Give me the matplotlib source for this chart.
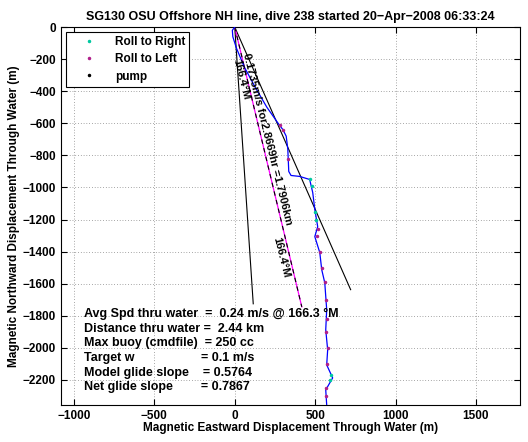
import matplotlib
matplotlib.use("Agg")
import matplotlib.pyplot as plt

plt.rcParams.update({
    "font.family": ["Liberation Sans", "DejaVu Sans"],
    "font.size": 8.5,
    "font.weight": "bold",
    "axes.labelweight": "bold",
    "axes.linewidth": 0.8,
})

# ---- Data ----------------------------------------------------------------
# glider track through water (m east, m north)
TRACK_X = [0, -15, -12, 10, 60, 130, 200, 270, 300, 320, 330, 336, 350, 404,
           466, 485, 498, 516, 498, 529, 541, 560, 572, 566, 578, 572, 609,
           566, 572]
TRACK_Y = [0, -20, -60, -130, -250, -380, -500, -600, -640, -680, -760, -900,
           -925, -931, -950, -1031, -1137, -1244, -1306, -1406, -1512, -1594,
           -1762, -1887, -2012, -2106, -2187, -2262, -2356]

ROLL_RIGHT_X = [466, 480, 500, 505, 600, 590]
ROLL_RIGHT_Y = [-945, -990, -1150, -1200, -2170, -2200]
ROLL_LEFT_X = [280, 300, 330, 520, 510, 530, 545, 560, 570, 575, 568, 580, 575, 568, 570]
ROLL_LEFT_Y = [-610, -640, -820, -1260, -1300, -1400, -1500, -1590, -1700, -1820, -1900,
               -2000, -2100, -2250, -2300]

# straight-line reference tracks (start, end)
HEADING_LINE_X = [0, 721]
HEADING_LINE_Y = [0, -1637]
BEARING_LINE_X = [0, 115]
BEARING_LINE_Y = [0, -1725]
NET_LINE_X = [0, 417]
NET_LINE_Y = [0, -1744]

TITLE = "SG130 OSU Offshore NH line, dive 238 started 20\u2212Apr\u22122008 06:33:24"
NET_LABEL = "0.1735m/s for2.8669hr =1.7906km"
HEADING_LABEL = "166.4\u00b0M"
SUMMARY_LINES = [
    "Avg Spd thru water  =  0.24 m/s @ 166.3 \u00b0M",
    "Distance thru water =  2.44 km",
    "Max buoy (cmdfile)  = 250 cc",
    "Target w                   = 0.1 m/s",
    "Model glide slope    = 0.5764",
    "Net glide slope        = 0.7867",
]

X_TICKS = [-1000, -500, 0, 500, 1000, 1500]
Y_TICKS = list(range(0, -2201, -200))

# ---- Figure --------------------------------------------------------------
fig = plt.figure(figsize=(5.28, 4.42), dpi=100)
ax = fig.add_axes([0.1155, 0.0837, 0.8695, 0.855])

ax.plot(HEADING_LINE_X, HEADING_LINE_Y, color="black", lw=0.8, zorder=2)
ax.plot(BEARING_LINE_X, BEARING_LINE_Y, color="black", lw=0.8, zorder=2)
ax.plot(NET_LINE_X, NET_LINE_Y, color="magenta", lw=0.9, zorder=2)
ax.plot(NET_LINE_X, NET_LINE_Y, color="black", lw=0.8, ls=(0, (4, 4)), zorder=2)

ax.plot(TRACK_X, TRACK_Y, color="blue", lw=0.9, zorder=3)
ax.plot(ROLL_RIGHT_X, ROLL_RIGHT_Y, ls="none", marker=".", ms=3,
        color="#00c8a0", zorder=4, label="Roll to Right")
ax.plot(ROLL_LEFT_X, ROLL_LEFT_Y, ls="none", marker=".", ms=3,
        color="#b0208a", zorder=4, label="Roll to Left")
ax.plot([], [], ls="none", marker=".", ms=3, color="black", label="pump")

ax.text(205, -700, NET_LABEL, rotation=-76, ha="center", va="center",
        rotation_mode="anchor", fontsize=8, zorder=5)
ax.text(286, -1437, HEADING_LABEL, rotation=-76, ha="center", va="center",
        rotation_mode="anchor", fontsize=8, zorder=5)
ax.text(37, -325, HEADING_LABEL, rotation=-76, ha="center", va="center",
        rotation_mode="anchor", fontsize=8, zorder=5)

y0 = -1790
for i, line in enumerate(SUMMARY_LINES):
    ax.text(-935, y0 - i * 91, line, ha="left", va="center", fontsize=9, zorder=5)

ax.set_xlim(-1081, 1775)
ax.set_ylim(-2356, 0)
ax.set_xticks(X_TICKS)
ax.set_yticks(Y_TICKS)
ax.tick_params(direction="in", top=True, right=True, length=4, width=0.8,
               labelsize=8.5)
for lbl in ax.get_xticklabels() + ax.get_yticklabels():
    lbl.set_fontweight("bold")
ax.grid(True, ls=(0, (1, 3)), color="#555555", lw=0.5)

ax.set_xlabel("Magnetic Eastward Displacement Through Water (m)", fontsize=8.5,
              fontweight="bold", labelpad=0)
ax.set_ylabel("Magnetic Northward Displacement Through Water (m)", fontsize=8.5,
              fontweight="bold", labelpad=2)
ax.set_title(TITLE, fontsize=9, fontweight="bold", pad=5)

leg = ax.legend(loc="upper left", fontsize=8.5, frameon=True, fancybox=False,
                edgecolor="black", framealpha=1, handlelength=3.2,
                borderaxespad=0.4, labelspacing=0.45, handletextpad=0.6,
                borderpad=0.35)
leg.get_frame().set_linewidth(0.8)

fig.savefig("out.png", dpi=100)
